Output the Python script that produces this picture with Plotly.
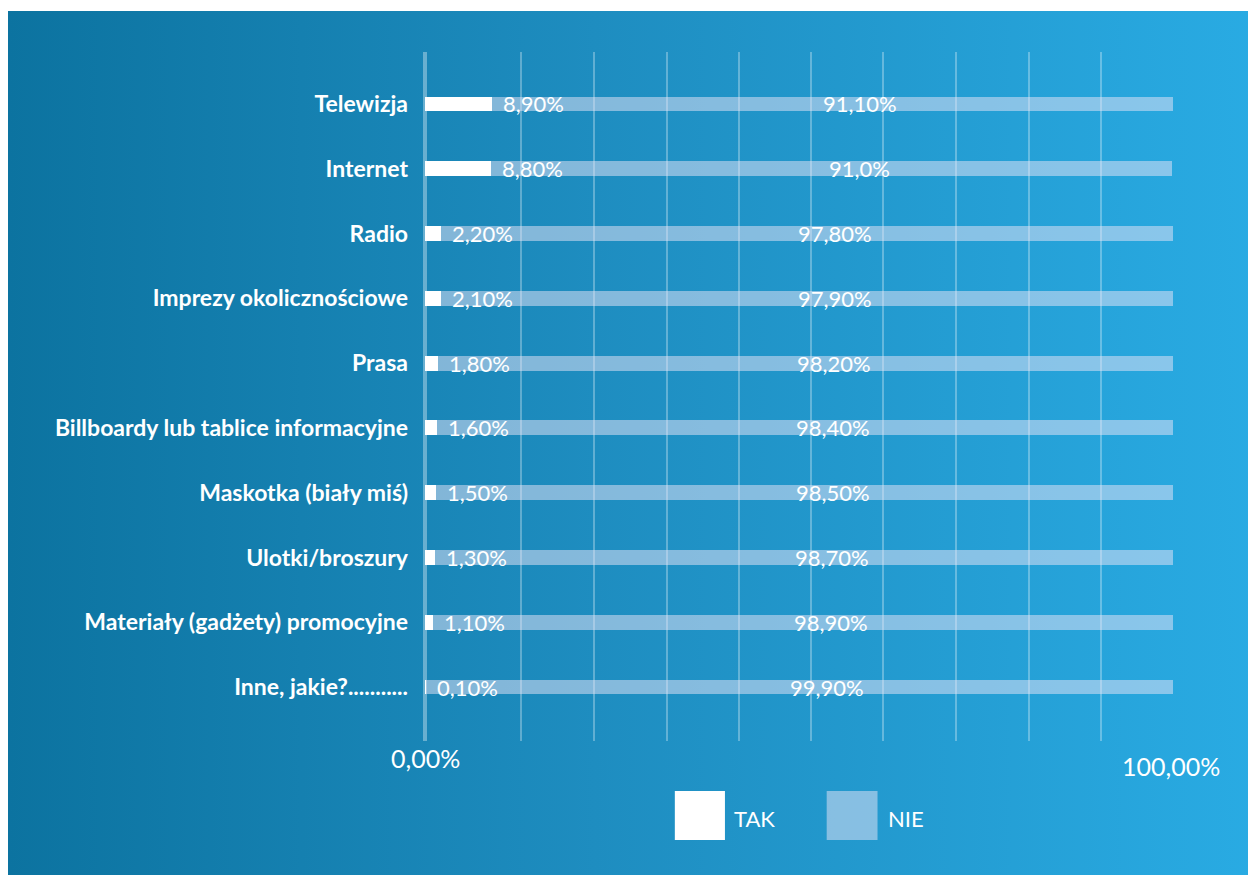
"""
Stacked horizontal bar chart: TAK / NIE shares per promotion channel.
"""
import base64

import plotly.graph_objects as go

categories = [
    "Telewizja",
    "Internet",
    "Radio",
    "Imprezy okolicznościowe",
    "Prasa",
    "Billboardy lub tablice informacyjne",
    "Maskotka (biały miś)",
    "Ulotki/broszury",
    "Materiały (gadżety) promocyjne",
    "Inne, jakie?...........",
]
tak = [8.9, 8.8, 2.2, 2.1, 1.8, 1.6, 1.5, 1.3, 1.1, 0.1]
nie = [91.1, 91.0, 97.8, 97.9, 98.2, 98.4, 98.5, 98.7, 98.9, 99.9]
tak_labels = ["8,90%", "8,80%", "2,20%", "2,10%", "1,80%",
              "1,60%", "1,50%", "1,30%", "1,10%", "0,10%"]
nie_labels = ["91,10%", "91,0%", "97,80%", "97,90%", "98,20%",
              "98,40%", "98,50%", "98,70%", "98,90%", "99,90%"]
grid_vals = [12.8, 22.6, 32.4, 42.0, 51.6, 61.2, 71.0, 80.7, 90.4, 100]

FONT = "Lato"
NIE_COLOR = "rgba(236,230,248,0.5)"

# gradient backdrop as an inline svg
svg = (
    '<svg xmlns="http://www.w3.org/2000/svg" width="1248" height="864">'
    '<defs><linearGradient id="g" x1="0" y1="0" x2="1" y2="0">'
    '<stop offset="0" stop-color="#0c73a0"/>'
    '<stop offset="0.47" stop-color="#1e8dc0"/>'
    '<stop offset="1" stop-color="#29abe3"/>'
    '</linearGradient></defs>'
    '<rect width="1248" height="864" fill="url(#g)"/></svg>'
)
bg_src = "data:image/svg+xml;base64," + base64.b64encode(svg.encode()).decode()

fig = go.Figure()
fig.add_trace(go.Bar(
    y=categories, x=tak, orientation="h", name="TAK",
    marker=dict(color="white", line=dict(width=0)),
    hoverinfo="x+y",
))
fig.add_trace(go.Bar(
    y=categories, x=nie, orientation="h", name="NIE",
    marker=dict(color=NIE_COLOR, line=dict(width=0)),
    hoverinfo="x+y",
))

for cat, t, n, tl, nl in zip(categories, tak, nie, tak_labels, nie_labels):
    fig.add_annotation(x=t, y=cat, text=tl, showarrow=False, xanchor="left",
                       xshift=9, font=dict(family=FONT, size=22, color="white"))
    fig.add_annotation(x=t + n / 2, y=cat, text=nl, showarrow=False,
                       xanchor="center", xshift=28,
                       font=dict(family=FONT, size=22, color="white"))

# axis end labels
fig.add_annotation(x=0.001, y=-0.025, xref="paper", yref="paper", text="0,00%",
                   showarrow=False, xanchor="center", yanchor="middle",
                   font=dict(family=FONT, size=25, color="white"))
fig.add_annotation(x=0.997, y=-0.037, xref="paper", yref="paper", text="100,00%",
                   showarrow=False, xanchor="center", yanchor="middle",
                   font=dict(family=FONT, size=25, color="white"))

# hand-drawn legend (large square swatches)
for x0, x1, col, name, tx in [(0.334, 0.401, "white", "TAK", 0.41),
                              (0.537, 0.605, NIE_COLOR, "NIE", 0.616)]:
    fig.add_shape(type="rect", xref="paper", yref="paper", x0=x0, x1=x1,
                  y0=-0.0726, y1=-0.1437, fillcolor=col, line=dict(width=0))
    fig.add_annotation(x=tx, y=-0.112, xref="paper", yref="paper", text=name,
                       showarrow=False, xanchor="left", yanchor="middle",
                       font=dict(family=FONT, size=22, color="white"))

fig.add_layout_image(
    source=bg_src, xref="paper", yref="paper", x=-0.5575, y=1.0595,
    sizex=1.6684, sizey=1.254, xanchor="left", yanchor="top",
    sizing="stretch", layer="below",
)

fig.update_layout(
    width=1256, height=875,
    barmode="stack", bargap=0.77,
    showlegend=False,
    paper_bgcolor="white", plot_bgcolor="rgba(0,0,0,0)",
    margin=dict(l=417, r=91, t=44, b=142),
    font=dict(family=FONT, color="white"),
    xaxis=dict(
        range=[0, 100], tickvals=grid_vals, showticklabels=False,
        showgrid=True, gridcolor="rgba(255,255,255,0.3)", gridwidth=2,
        zeroline=True, zerolinecolor="rgba(255,255,255,0.35)", zerolinewidth=4,
        showline=False, fixedrange=True,
    ),
    yaxis=dict(
        categoryorder="array", categoryarray=categories,
        range=[9.833, -0.802], showgrid=False, zeroline=False, showline=False,
        ticks="", ticklabelstandoff=16,
        tickfont=dict(family=FONT, size=23, color="white", weight="bold"),
    ),
)

fig.write_html("out.html")
